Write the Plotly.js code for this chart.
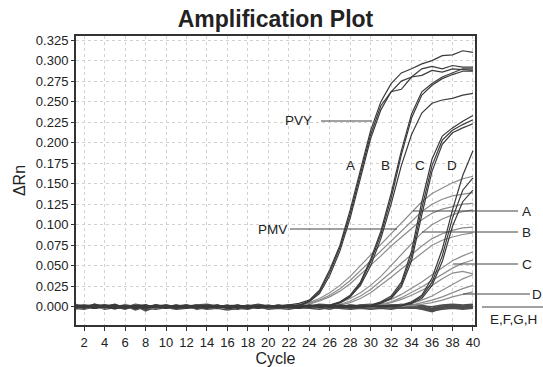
<!DOCTYPE html>
<html>
<head>
<meta charset="utf-8">
<script src="https://cdn.plot.ly/plotly-3.0.1.min.js"></script>
<style>html,body{margin:0;padding:0;background:#fff;}#chart{width:543px;height:367px;}</style>
</head>
<body>
<div id="chart"></div>
<script>
// ---- DATA ----
const cycles = [1,2,3,4,5,6,7,8,9,10,11,12,13,14,15,16,17,18,19,20,21,22,23,24,25,26,27,28,29,30,31,32,33,34,35,36,37,38,39,40];

// PVY dilutions (dark, steep)
const pvyA1 = [0.001,-0.002,0.003,0.000,-0.001,0.002,-0.003,0.001,0.000,-0.002,
  0.001,0.002,-0.001,0.000,0.001,-0.002,0.000,0.002,-0.001,0.001,
  0.000,0.002,0.004,0.008,0.020,0.045,0.075,0.118,0.168,0.215,
  0.250,0.272,0.285,0.290,0.296,0.300,0.306,0.307,0.312,0.310];
const pvyA2 = [-0.001,0.001,0.000,0.002,-0.002,0.000,0.001,-0.003,0.002,0.000,
  -0.001,0.000,0.002,-0.001,0.000,0.001,-0.002,0.001,0.000,-0.001,
  0.001,0.000,0.002,0.007,0.018,0.042,0.072,0.113,0.162,0.210,
  0.245,0.262,0.265,0.280,0.290,0.293,0.290,0.294,0.292,0.292];
const pvyA3 = [0.000,0.002,-0.002,0.001,0.003,-0.001,0.000,0.002,-0.001,0.001,
  0.000,-0.002,0.001,0.002,-0.001,0.000,0.001,-0.001,0.002,0.000,
  -0.001,0.001,0.001,0.006,0.016,0.038,0.068,0.108,0.158,0.205,
  0.240,0.262,0.275,0.280,0.282,0.288,0.286,0.290,0.289,0.288];
const pvyB1 = [0.002,0.000,-0.001,0.001,0.000,-0.002,0.001,0.002,0.000,-0.001,
  0.001,0.000,-0.001,0.002,0.000,0.001,-0.001,0.000,0.002,0.001,
  0.000,-0.001,0.001,0.000,0.002,0.002,0.006,0.014,0.030,0.058,
  0.092,0.138,0.190,0.235,0.262,0.272,0.280,0.285,0.290,0.290];
const pvyB2 = [-0.002,0.001,0.000,-0.001,0.002,0.000,-0.001,0.000,0.001,0.002,
  -0.001,0.001,0.000,-0.002,0.001,0.000,0.002,-0.001,0.000,0.001,
  -0.001,0.000,0.002,0.001,0.000,0.001,0.005,0.012,0.028,0.055,
  0.088,0.132,0.185,0.230,0.258,0.270,0.278,0.283,0.287,0.287];
const pvyB3 = [0.001,-0.001,0.002,0.000,-0.003,0.001,0.000,-0.001,0.002,0.000,
  0.000,0.001,-0.002,0.000,0.001,-0.001,0.001,0.000,-0.002,0.001,
  0.001,0.000,-0.001,0.002,0.001,0.001,0.005,0.012,0.026,0.050,
  0.083,0.125,0.172,0.210,0.236,0.248,0.252,0.254,0.258,0.260];
const pvyC1 = [0.000,0.001,-0.002,0.002,0.000,0.001,-0.001,0.000,0.002,-0.002,
  0.001,0.000,0.001,-0.001,0.002,0.000,-0.001,0.001,0.000,0.002,
  0.000,0.001,-0.001,0.002,0.000,0.001,0.000,0.002,0.001,0.002,
  0.006,0.013,0.030,0.068,0.128,0.180,0.208,0.218,0.226,0.233];
const pvyC2 = [-0.001,0.000,0.002,-0.001,0.001,-0.002,0.000,0.001,-0.001,0.000,
  0.002,-0.001,0.000,0.001,-0.002,0.001,0.000,-0.001,0.001,0.000,
  0.001,-0.001,0.000,0.001,0.002,0.000,0.001,-0.001,0.000,0.001,
  0.005,0.011,0.027,0.062,0.120,0.172,0.203,0.215,0.222,0.228];
const pvyC3 = [0.002,-0.001,0.000,0.001,-0.002,0.000,0.002,-0.001,0.000,0.001,
  -0.001,0.000,0.002,0.000,-0.001,0.001,0.002,0.000,-0.001,0.000,
  0.002,0.000,0.001,-0.001,0.001,0.000,0.002,0.000,0.001,0.001,
  0.004,0.010,0.024,0.056,0.112,0.165,0.198,0.212,0.218,0.223];
const pvyD1 = [0.001,0.000,-0.002,0.000,0.002,-0.001,0.001,0.000,-0.001,0.002,
  0.000,-0.001,0.001,0.000,0.002,-0.002,0.000,0.001,0.000,-0.001,
  0.001,0.002,0.000,0.001,-0.001,0.000,0.002,0.001,0.000,0.001,
  0.001,0.002,0.002,0.006,0.014,0.035,0.070,0.118,0.160,0.190];
const pvyD2 = [-0.002,0.001,0.000,-0.001,0.001,0.000,-0.002,0.002,0.000,-0.001,
  0.001,0.002,-0.001,0.000,-0.001,0.001,0.000,-0.002,0.001,0.000,
  0.000,-0.001,0.001,0.000,0.002,-0.001,0.000,0.001,-0.001,0.000,
  0.001,0.000,0.001,0.005,0.012,0.030,0.062,0.108,0.142,0.157];
const pvyD3 = [0.000,-0.001,0.001,0.002,-0.001,0.000,0.001,-0.001,0.002,0.000,
  -0.002,0.000,0.001,-0.001,0.000,0.002,-0.001,0.000,-0.001,0.001,
  0.001,0.000,-0.002,0.001,0.000,0.001,-0.001,0.000,0.002,0.000,
  0.000,0.001,0.001,0.004,0.010,0.026,0.055,0.098,0.128,0.142];

// PMV dilutions (lighter, gentle)
const pmvA1 = [0.001,0.003,-0.001,0.000,0.002,-0.002,0.001,0.000,0.002,-0.001,
  0.000,0.001,0.002,-0.001,0.000,0.002,0.001,-0.001,0.001,0.000,
  0.002,0.001,0.002,0.005,0.010,0.017,0.026,0.037,0.050,0.064,
  0.077,0.089,0.103,0.116,0.128,0.138,0.145,0.151,0.156,0.159];
const pmvA2 = [-0.001,0.000,0.002,-0.002,0.001,0.000,-0.003,0.001,0.000,0.001,
  -0.001,0.000,0.001,0.002,-0.002,0.000,0.001,0.000,-0.001,0.001,
  0.000,0.001,0.002,0.004,0.008,0.014,0.022,0.032,0.044,0.056,
  0.068,0.080,0.093,0.105,0.116,0.125,0.131,0.135,0.137,0.139];
const pmvA3 = [0.000,-0.002,0.001,0.003,0.000,-0.001,0.002,0.000,-0.002,0.001,
  0.001,-0.001,0.000,0.001,0.002,-0.001,0.000,0.002,0.000,-0.001,
  0.001,0.000,0.001,0.003,0.007,0.012,0.019,0.028,0.039,0.050,
  0.062,0.074,0.085,0.096,0.106,0.114,0.119,0.122,0.125,0.126];
const pmvB1 = [0.002,-0.001,0.000,0.001,-0.002,0.003,0.000,-0.001,0.001,0.000,
  0.002,0.000,-0.001,0.001,0.000,-0.002,0.002,0.000,0.001,-0.001,
  0.000,0.001,0.000,0.001,0.001,0.002,0.005,0.010,0.017,0.026,
  0.037,0.050,0.063,0.077,0.090,0.100,0.107,0.112,0.116,0.118];
const pmvB2 = [-0.001,0.001,0.002,-0.001,0.000,0.001,-0.002,0.000,0.002,-0.001,
  0.000,0.001,-0.002,0.000,0.001,0.000,-0.001,0.002,0.000,0.001,
  -0.001,0.000,0.001,0.000,0.002,0.001,0.003,0.007,0.013,0.021,
  0.031,0.042,0.053,0.064,0.074,0.083,0.089,0.093,0.096,0.097];
const pmvB3 = [0.000,0.002,-0.001,0.000,0.001,-0.001,0.002,-0.002,0.000,0.001,
  -0.001,0.002,0.000,-0.001,0.001,0.000,0.002,-0.001,0.000,0.000,
  0.001,-0.001,0.000,0.002,0.000,0.001,0.002,0.005,0.010,0.017,
  0.026,0.036,0.046,0.056,0.066,0.075,0.081,0.085,0.088,0.090];
const pmvC1 = [0.001,0.000,-0.002,0.002,0.000,-0.001,0.001,0.002,-0.001,0.000,
  0.001,-0.002,0.000,0.001,0.000,0.002,-0.001,0.000,0.001,-0.001,
  0.000,0.002,0.000,-0.001,0.001,0.000,0.002,0.000,0.001,0.002,
  0.005,0.009,0.015,0.022,0.030,0.039,0.048,0.056,0.062,0.067];
const pmvC2 = [-0.002,0.000,0.001,-0.001,0.002,0.000,-0.001,0.001,0.000,0.002,
  0.000,-0.001,0.001,0.000,-0.002,0.001,0.000,0.001,-0.001,0.000,
  0.002,-0.001,0.001,0.000,0.000,0.002,-0.001,0.001,0.000,0.001,
  0.003,0.006,0.011,0.017,0.024,0.032,0.040,0.047,0.053,0.057];
const pmvC3 = [0.000,0.001,0.000,-0.002,0.001,0.002,0.000,-0.001,0.001,-0.002,
  0.001,0.000,0.002,-0.001,0.001,0.000,-0.002,0.001,0.000,0.002,
  -0.001,0.000,0.001,0.001,-0.001,0.000,0.001,0.000,-0.001,0.001,
  0.002,0.005,0.009,0.014,0.020,0.026,0.034,0.041,0.043,0.040];
const pmvD1 = [0.001,-0.001,0.002,0.000,-0.002,0.001,0.000,0.002,-0.001,0.000,
  0.002,0.000,-0.001,0.001,0.002,-0.001,0.000,0.001,-0.002,0.000,
  0.001,0.000,-0.001,0.002,0.000,0.001,-0.001,0.001,0.000,0.002,
  0.001,0.000,0.002,0.004,0.008,0.013,0.020,0.027,0.034,0.039];
const pmvD2 = [-0.001,0.002,0.000,0.001,-0.001,0.000,0.002,-0.002,0.001,0.000,
  -0.001,0.001,0.002,0.000,-0.001,0.000,0.001,-0.001,0.002,0.000,
  0.000,0.001,0.000,-0.001,0.002,0.000,0.000,0.001,-0.001,0.000,
  0.002,0.001,0.000,0.002,0.005,0.008,0.012,0.017,0.022,0.026];
const pmvD3 = [0.002,0.000,-0.001,0.001,0.000,0.002,-0.001,0.000,0.001,-0.002,
  0.000,0.002,-0.001,0.001,0.000,-0.001,0.002,0.000,0.001,-0.001,
  0.001,0.000,0.002,0.000,-0.001,0.001,0.000,0.002,0.000,-0.001,
  0.001,0.000,0.002,0.001,0.003,0.005,0.008,0.012,0.015,0.018];

// Negative samples E, F, G, H (flat)
const negE = [0.002,0.000,0.003,0.001,-0.002,0.001,-0.004,0.000,0.002,0.001,
  -0.001,0.002,0.000,0.001,-0.001,0.000,0.001,-0.002,0.002,0.000,
  0.001,0.002,0.000,0.001,-0.001,0.001,0.000,0.002,0.001,0.000,
  0.002,0.001,0.003,0.001,0.002,-0.002,0.001,0.002,0.001,0.002];
const negF = [-0.002,-0.003,0.000,-0.001,0.003,-0.002,0.000,-0.003,-0.001,0.000,
  -0.002,0.001,-0.003,-0.001,0.000,-0.002,-0.003,0.000,-0.001,-0.002,
  0.000,-0.001,-0.002,0.000,-0.001,-0.003,0.000,-0.002,-0.001,-0.002,
  0.000,-0.001,-0.002,-0.001,-0.003,-0.006,-0.002,-0.001,-0.002,-0.001];
const negG = [0.000,0.001,-0.001,0.002,0.000,-0.003,0.001,-0.005,0.000,0.002,
  0.000,-0.001,0.001,0.000,-0.002,0.001,0.000,-0.001,0.000,0.001,
  -0.001,0.000,0.001,0.000,0.002,0.000,-0.001,0.001,0.000,0.001,
  -0.001,0.000,0.001,0.002,0.000,-0.003,0.000,0.001,0.000,0.000];
const negH = [-0.001,0.002,0.001,-0.002,0.001,0.000,-0.001,0.002,-0.002,0.000,
  0.001,-0.002,0.000,-0.001,0.002,-0.001,0.001,0.000,-0.002,0.000,
  0.002,-0.001,0.000,-0.002,0.001,0.000,0.002,-0.001,0.000,-0.001,
  0.001,-0.002,0.000,0.000,-0.001,-0.004,-0.001,0.000,-0.001,0.000];
const negE2 = [0.003,0.001,-0.002,0.000,0.002,-0.001,0.003,0.001,0.000,-0.001,
  0.002,0.000,0.002,0.003,0.001,0.000,-0.001,0.001,0.003,0.001,
  0.000,0.001,0.002,0.001,0.003,0.002,0.001,0.000,0.002,0.003,
  0.001,0.002,0.002,0.003,0.001,0.000,0.002,0.003,0.002,0.003];
const negF2 = [-0.003,-0.001,0.001,-0.003,-0.001,-0.002,0.001,-0.002,-0.003,-0.001,
  -0.003,-0.002,-0.001,-0.003,-0.002,-0.004,-0.002,-0.003,0.000,-0.003,
  -0.002,-0.003,-0.001,-0.002,-0.003,-0.001,-0.002,-0.003,-0.002,-0.003,
  -0.002,-0.003,-0.001,-0.002,-0.002,-0.005,-0.003,-0.002,-0.003,-0.002];

const yTicks = [0,0.025,0.05,0.075,0.1,0.125,0.15,0.175,0.2,0.225,0.25,0.275,0.3,0.325];
const xTicks = [2,4,6,8,10,12,14,16,18,20,22,24,26,28,30,32,34,36,38,40];

// ---- TRACES ----
const negSeries = [negE, negF, negG, negH, negE2, negF2];
const pmvSeries = [pmvA1,pmvA2,pmvA3,pmvB1,pmvB2,pmvB3,pmvC1,pmvC2,pmvC3,pmvD1,pmvD2,pmvD3];
const pvySeries = [pvyA1,pvyA2,pvyA3,pvyB1,pvyB2,pvyB3,pvyC1,pvyC2,pvyC3,pvyD1,pvyD2,pvyD3];

const traces = [];
negSeries.forEach(s => traces.push({x: cycles, y: s, type:'scatter', mode:'lines', line:{color:'#4d4d4d', width:1.5}, hoverinfo:'skip'}));
pmvSeries.forEach(s => traces.push({x: cycles, y: s, type:'scatter', mode:'lines', line:{color:'#8c8c8c', width:1.2}, hoverinfo:'skip'}));
pvySeries.forEach(s => traces.push({x: cycles, y: s, type:'scatter', mode:'lines', line:{color:'#3a3a3a', width:1.2}, hoverinfo:'skip'}));

const FONT = 'Liberation Sans, Arial, Helvetica, sans-serif';
const W = 543, H = 367, L = 76, R = 68, T = 36, B = 42;
const pw = W - L - R, ph = H - T - B;
const px = v => (v - L) / pw;          // pixel x -> paper x
const py = v => (H - B - v) / ph;      // pixel y -> paper y

function lineShape(x0, x1, y) {
  return {type:'line', xref:'paper', yref:'paper', x0: px(x0), x1: px(x1), y0: py(y), y1: py(y), line:{color:'#444', width:1}};
}
const shapes = [
  lineShape(321, 372, 121),   // PVY
  lineShape(290, 397, 229),   // PMV
  lineShape(413, 518, 211),   // A
  lineShape(422, 518, 232),   // B
  lineShape(453, 518, 264),   // C
  lineShape(463, 530, 294),   // D
  lineShape(482, 543, 307)    // E,F,G,H
];
function ann(text, x, y, xanchor) {
  return {text, xref:'paper', yref:'paper', x: px(x), y: py(y), xanchor: xanchor || 'center', yanchor:'middle', showarrow:false, font:{family:FONT, size:13.5, color:'#222'}};
}
const annotations = [
  ann('PVY', 298, 120),
  ann('A', 350, 165), ann('B', 385, 165), ann('C', 420, 165), ann('D', 452, 165),
  ann('PMV', 272, 229),
  ann('A', 526, 211), ann('B', 526, 232), ann('C', 527, 264), ann('D', 530, 294, 'left'),
  ann('E,F,G,H', 513, 319)
];

const layout = {
  width: W, height: H,
  margin: {l: L, r: R, t: T, b: B, pad: 0},
  paper_bgcolor: '#fff', plot_bgcolor: '#fff',
  showlegend: false,
  font: {family: FONT, color: '#222'},
  title: {text: '<b>Amplification Plot</b>', x: 0.5, xref: 'paper', y: 1 - 19/H, yref: 'container', yanchor: 'middle', font: {family: FONT, size: 23, color: '#222'}},
  xaxis: {
    range: [1.2, 40.2], tickvals: xTicks, ticktext: xTicks.map(String),
    ticks: 'outside', ticklen: 4, tickcolor: '#333', tickwidth: 1,
    showline: true, mirror: true, linecolor: '#333', linewidth: 2,
    showgrid: true, gridcolor: '#d2d2d2', gridwidth: 1, griddash: 'dot',
    zeroline: false, tickfont: {family: FONT, size: 13, color: '#222'},
    title: {text: 'Cycle', font: {family: FONT, size: 16, color: '#222'}, standoff: 4}
  },
  yaxis: {
    range: [-0.0223, 0.330], tickvals: yTicks, ticktext: yTicks.map(v => v.toFixed(3)),
    ticks: 'outside', ticklen: 3, tickcolor: '#333', tickwidth: 1,
    showline: true, mirror: true, linecolor: '#333', linewidth: 2,
    showgrid: true, gridcolor: '#d2d2d2', gridwidth: 1, griddash: 'dot',
    zeroline: false, tickfont: {family: FONT, size: 13, color: '#222'},
    title: {text: 'ΔRn', font: {family: FONT, size: 16, color: '#222'}, standoff: 6}
  },
  shapes, annotations
};

Plotly.newPlot('chart', traces, layout, {displayModeBar: false, staticPlot: true});
</script>
</body>
</html>
